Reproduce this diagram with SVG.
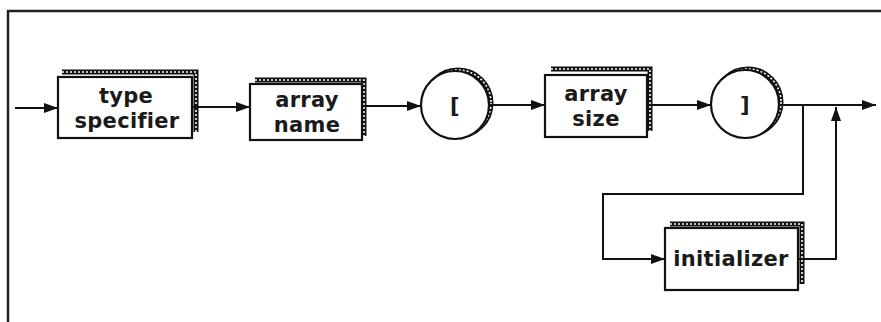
<svg xmlns="http://www.w3.org/2000/svg" width="881" height="322" viewBox="0 0 881 322">
<style>
.frame{fill:none;stroke:#222;stroke-width:2.5}
.band{fill:none;stroke:#111;stroke-width:5}
.dots{fill:none;stroke:#fff;stroke-width:1.6;stroke-dasharray:2 2}
.front{fill:#fff;stroke:#111;stroke-width:2.2}
.lbl{font-family:"DejaVu Sans","Liberation Sans",Arial,sans-serif;font-weight:bold;font-size:21px;letter-spacing:0.3px;fill:#1a1a1a;text-anchor:middle}
.con{fill:none;stroke:#111;stroke-width:2}
</style>
<defs>
<marker id="ah" viewBox="0 0 14 10" refX="14" refY="5" markerWidth="14" markerHeight="10" markerUnits="userSpaceOnUse" orient="auto">
<path d="M0,0 L14,5 L0,10 Z" fill="#111"/>
</marker>
</defs>
<rect width="881" height="322" fill="#fff"/>
<path class="frame" d="M8,322 V11 H881"/>

<g id="type-specifier">
<path class="band" d="M62,72 H196 V132"/>
<path class="dots" d="M62,72 H196 V132"/>
<rect class="front" x="58" y="77" width="134" height="61"/>
<text class="lbl" x="126" y="103">type</text>
<text class="lbl" x="127" y="128">specifier</text>
</g>

<g id="array-name">
<path class="band" d="M255,80 H364 V136"/>
<path class="dots" d="M255,80 H364 V136"/>
<rect class="front" x="250" y="84" width="112" height="56"/>
<text class="lbl" x="307" y="107">array</text>
<text class="lbl" x="307" y="132">name</text>
</g>

<g id="open-bracket">
<circle class="band" cx="458" cy="103" r="33"/>
<circle class="dots" cx="458" cy="103" r="33"/>
<circle class="front" cx="455" cy="105" r="34"/>
<text class="lbl" x="455" y="113">[</text>
</g>

<g id="array-size">
<path class="band" d="M551,69 H650 V131"/>
<path class="dots" d="M551,69 H650 V131"/>
<rect class="front" x="545" y="75" width="102" height="62"/>
<text class="lbl" x="596" y="101">array</text>
<text class="lbl" x="596" y="126">size</text>
</g>

<g id="close-bracket">
<circle class="band" cx="748" cy="102" r="33"/>
<circle class="dots" cx="748" cy="102" r="33"/>
<circle class="front" cx="745" cy="104" r="34"/>
<text class="lbl" x="745" y="112">]</text>
</g>

<g id="initializer">
<path class="band" d="M670,224 H802 V284"/>
<path class="dots" d="M670,224 H802 V284"/>
<rect class="front" x="665" y="228" width="133" height="62"/>
<text class="lbl" x="731" y="266">initializer</text>
</g>

<g id="connectors">
<path class="con" marker-end="url(#ah)" d="M15,108 H58"/>
<path class="con" marker-end="url(#ah)" d="M193,107 H250"/>
<path class="con" marker-end="url(#ah)" d="M363,106 H421"/>
<path class="con" marker-end="url(#ah)" d="M489,105 H545"/>
<path class="con" marker-end="url(#ah)" d="M647,105 H711"/>
<path class="con" marker-end="url(#ah)" d="M779,105 H876"/>
<path class="con" marker-end="url(#ah)" d="M803,105 V194 H603 V259 H665"/>
<path class="con" marker-end="url(#ah)" d="M798,259 H836 V107"/>
</g>
</svg>
